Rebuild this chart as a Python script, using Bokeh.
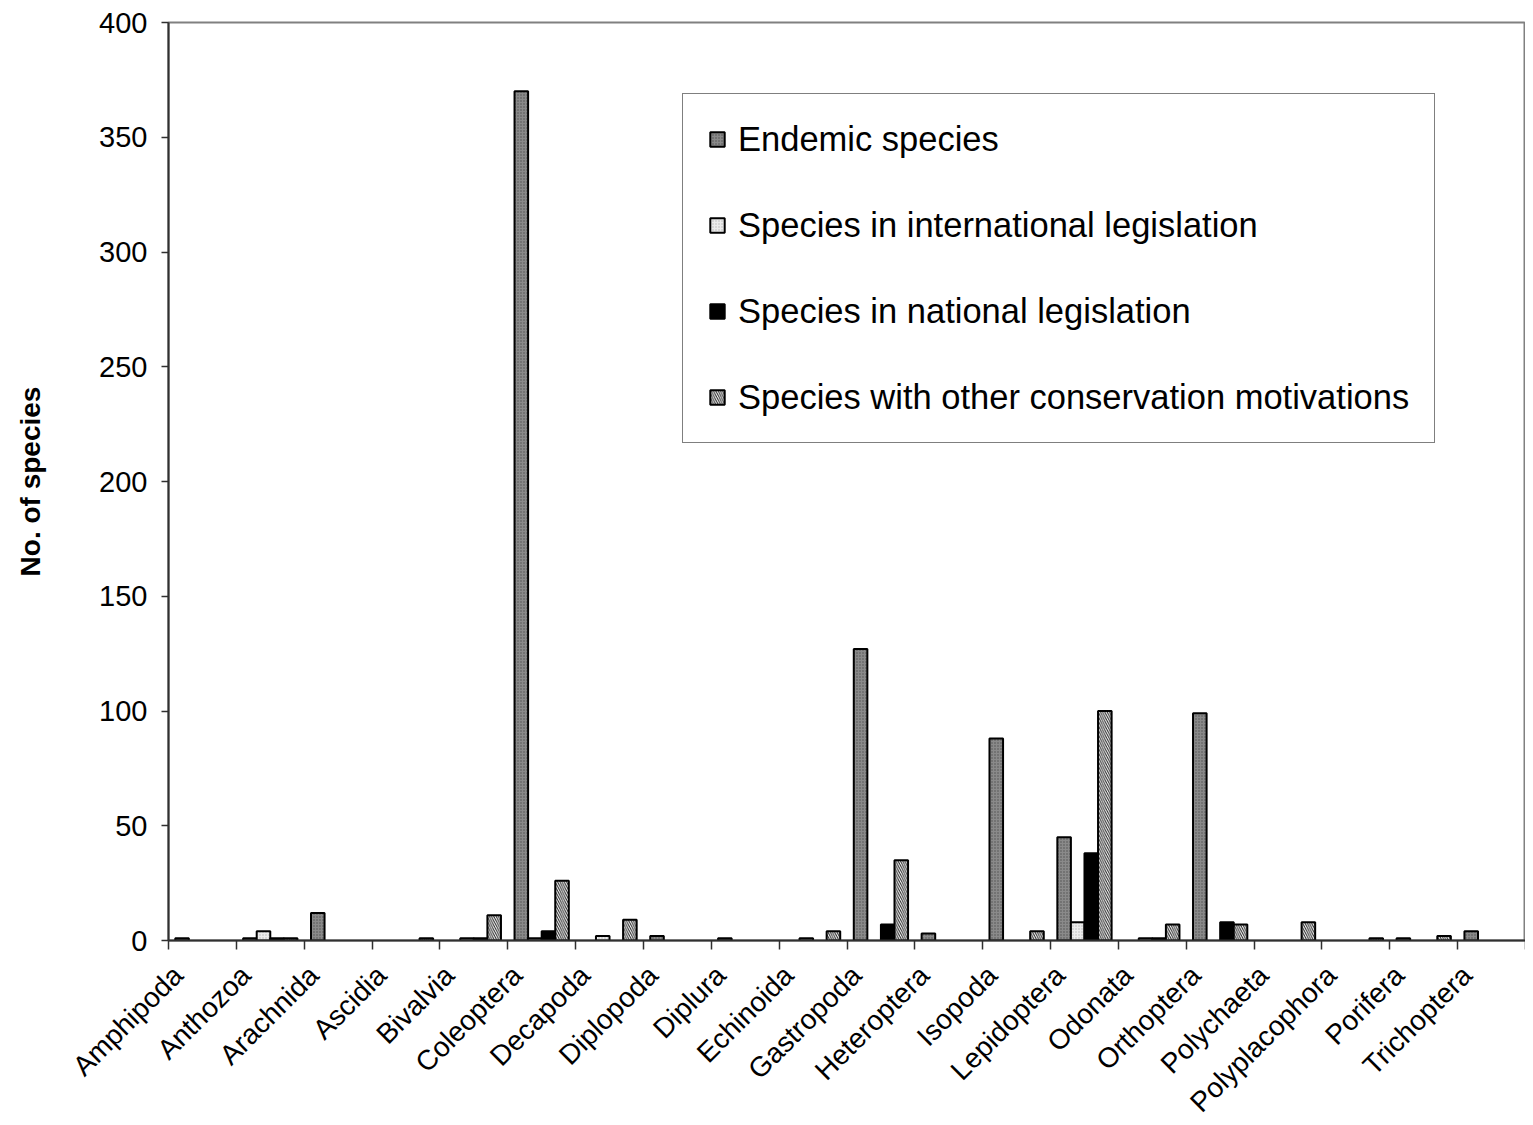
import numpy as np
from bokeh.plotting import figure
from bokeh.models import (Range1d, FixedTicker, LinearAxis, ColumnDataSource,
                          Legend, LegendItem)
from bokeh.embed import file_html
from bokeh.resources import INLINE

categories = ["Amphipoda", "Anthozoa", "Arachnida", "Ascidia", "Bivalvia",
              "Coleoptera", "Decapoda", "Diplopoda", "Diplura", "Echinoida",
              "Gastropoda", "Heteroptera", "Isopoda", "Lepidoptera", "Odonata",
              "Orthoptera", "Polychaeta", "Polyplacophora", "Porifera", "Trichoptera"]
endemic       = [1, 1, 12, 0, 0, 370, 0, 2, 1, 0, 127, 3, 88, 45, 0, 99, 0, 0, 1, 4]
international = [0, 4, 0, 0, 1, 1, 2, 0, 0, 1, 0, 0, 0, 8, 1, 0, 0, 0, 0, 0]
national      = [0, 1, 0, 0, 1, 4, 0, 0, 0, 0, 7, 0, 0, 38, 1, 8, 0, 0, 0, 0]
other         = [0, 1, 0, 1, 11, 26, 9, 0, 0, 4, 35, 0, 4, 100, 7, 7, 8, 1, 2, 0]
series_names = ["Endemic species", "Species in international legislation",
                "Species in national legislation",
                "Species with other conservation motivations"]
y_ticks = [0, 50, 100, 150, 200, 250, 300, 350, 400]

FONT = "Liberation Sans"
n = len(categories)
idx = np.arange(n)

p = figure(frame_width=1357, frame_height=918,
           x_range=Range1d(0, n), y_range=Range1d(0, 400),
           output_backend="svg", toolbar_location=None,
           x_axis_location=None,
           min_border_left=168, min_border_right=0, min_border_top=22,
           min_border_bottom=0,
           background_fill_color="white", border_fill_color="white")
p.grid.visible = False
p.outline_line_color = "#808080"
p.outline_line_width = 2

styles = [
    dict(fill_color="#8a8a8a", hatch_pattern="dot", hatch_color="#505050",
         hatch_scale=3, hatch_weight=1),
    dict(fill_color="#ececec", hatch_pattern="dot", hatch_color="#b5b5b5",
         hatch_scale=3, hatch_weight=1),
    dict(fill_color="black"),
    dict(fill_color="white", hatch_pattern="left_diagonal_line",
         hatch_color="#202020", hatch_scale=4.5, hatch_weight=1),
]
offsets = [0.2, 0.4, 0.6, 0.8]
data = [endemic, international, national, other]

items = []
for name, vals, off, st in zip(series_names, data, offsets, styles):
    vals = np.array(vals)
    keep = vals > 0
    src = ColumnDataSource(dict(x=(idx + off)[keep], top=vals[keep]))
    r = p.vbar(x="x", top="top", bottom=0, width=0.2, source=src,
               line_color="black", line_width=2, **st)
    items.append(LegendItem(label=name, renderers=[r]))

# y axis
ya = p.yaxis[0]
ya.ticker = FixedTicker(ticks=y_ticks)
ya.minor_tick_line_color = None
ya.major_tick_in = 0
ya.major_tick_out = 7
ya.axis_line_color = "#303030"
ya.axis_line_width = 2
ya.major_tick_line_color = "#303030"
ya.major_tick_line_width = 1.5
ya.major_label_text_font = FONT
ya.major_label_text_font_size = "29px"
ya.major_label_text_color = "black"
ya.major_label_standoff = 14
ya.axis_label = "No. of species"
ya.axis_label_text_font = FONT
ya.axis_label_text_font_style = "bold"
ya.axis_label_text_font_size = "28px"
ya.axis_label_text_color = "black"
ya.axis_label_standoff = 50

# x axis: ticks at category boundaries
xa = LinearAxis(ticker=FixedTicker(ticks=list(range(n + 1))),
                major_label_overrides={i: "" for i in range(n + 1)},
                major_label_text_font_size="1px", major_label_standoff=0,
                major_tick_in=0, major_tick_out=9,
                minor_tick_line_color=None,
                axis_line_color="#303030", axis_line_width=2,
                major_tick_line_color="#303030", major_tick_line_width=1.5)
p.add_layout(xa, "below")

# x axis labels
label_pos = [float(i) + 0.14 for i in idx]
xl = LinearAxis(ticker=FixedTicker(ticks=label_pos),
                major_label_overrides={lp: c for lp, c in zip(label_pos, categories)},
                major_label_orientation=np.pi / 4,
                major_label_text_font=FONT, major_label_text_font_size="28px",
                major_label_text_color="black",
                major_label_standoff=21,
                major_tick_in=0, major_tick_out=0,
                major_tick_line_color=None, minor_tick_line_color=None,
                axis_line_color=None)
p.add_layout(xl, "below")

legend = Legend(items=items, location=(514, 497),
                label_text_font=FONT, label_text_font_size="34.5px",
                label_text_color="black",
                glyph_width=18, glyph_height=18, label_height=40,
                spacing=46, padding=25, margin=0, label_standoff=12,
                border_line_color="black", border_line_width=1,
                background_fill_color="white", background_fill_alpha=1)
p.add_layout(legend, "center")

open("out.html", "w").write(file_html(p, INLINE))
